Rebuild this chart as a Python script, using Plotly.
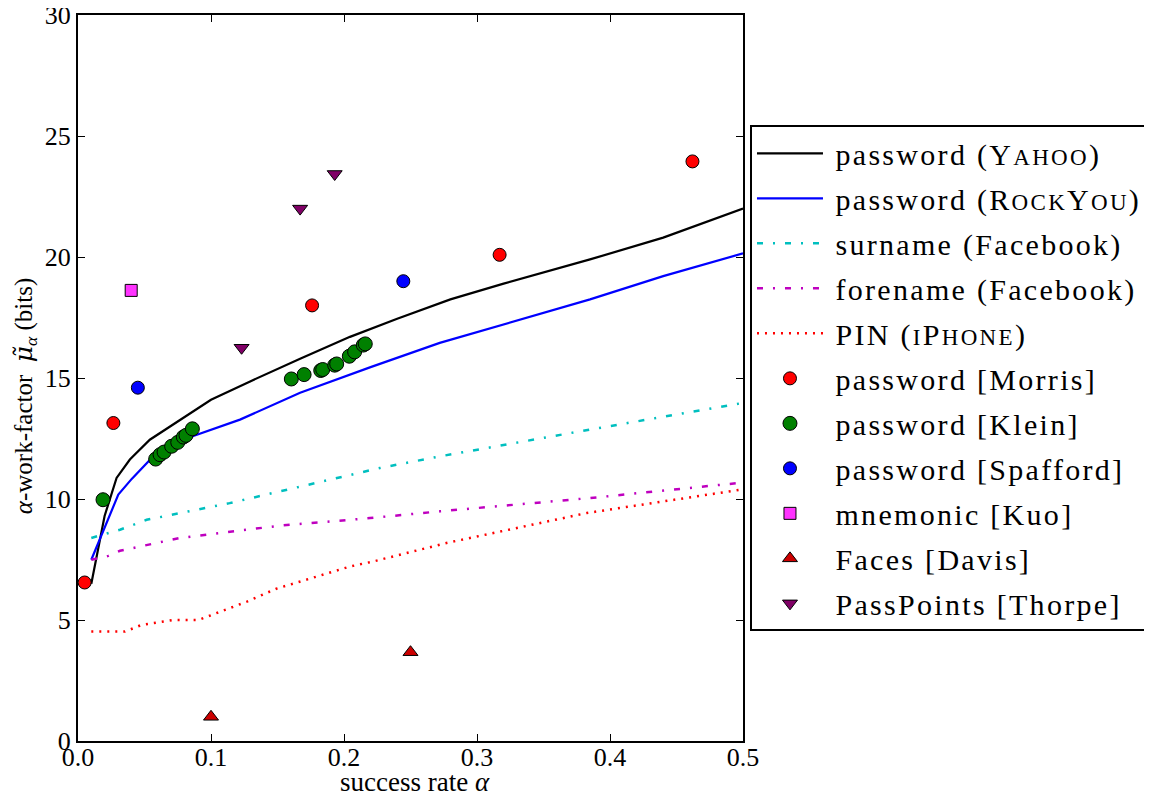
import plotly.graph_objects as go

# ---- data ----
yahoo_x = [0.01, 0.02, 0.029, 0.039, 0.054, 0.077, 0.10, 0.129, 0.167, 0.2045, 0.24, 0.28, 0.32, 0.385, 0.44, 0.5]
yahoo_y = [6.5, 9.3, 10.87, 11.63, 12.45, 13.28, 14.1, 14.85, 15.8, 16.7, 17.45, 18.25, 18.9, 19.9, 20.8, 22.0]

rockyou_x = [0.01, 0.0303, 0.0404, 0.059, 0.0867, 0.1218, 0.167, 0.22, 0.272, 0.385, 0.44, 0.5]
rockyou_y = [7.49, 10.18, 10.83, 11.9, 12.6, 13.28, 14.39, 15.45, 16.45, 18.25, 19.21, 20.15]

surname_x = [0.01, 0.0316, 0.0516, 0.114, 0.227, 0.272, 0.385, 0.5]
surname_y = [8.39, 8.73, 9.14, 9.83, 11.28, 11.76, 12.87, 13.97]

forename_x = [0.01, 0.0228, 0.0316, 0.0767, 0.152, 0.2195, 0.272, 0.385, 0.5]
forename_y = [7.49, 7.65, 7.86, 8.39, 8.9, 9.21, 9.49, 10.04, 10.68]

pin_x = [0.01, 0.0353, 0.0479, 0.0717, 0.0905, 0.109, 0.127, 0.149, 0.174, 0.2045, 0.222, 0.277, 0.3825, 0.5]
pin_y = [4.52, 4.52, 4.80, 5.0, 5.0, 5.39, 5.76, 6.29, 6.69, 7.21, 7.42, 8.18, 9.42, 10.4]

morris_x = [0.005, 0.0266, 0.176, 0.317, 0.462]
morris_y = [6.55, 13.14, 18.0, 20.09, 23.95]

klein_x = [0.0188, 0.0584, 0.0617, 0.0647, 0.0704, 0.075, 0.0792, 0.0812, 0.086,
           0.1604, 0.170, 0.1825, 0.184, 0.193, 0.1945, 0.204, 0.208, 0.2145, 0.216]
klein_y = [9.97, 11.65, 11.83, 11.94, 12.18, 12.34, 12.56, 12.63, 12.9,
           14.96, 15.14, 15.31, 15.35, 15.53, 15.58, 15.9, 16.08, 16.36, 16.41]

spafford_x = [0.045, 0.2446]
spafford_y = [14.6, 19.0]

kuo_x = [0.040]
kuo_y = [18.62]

davis_x = [0.100, 0.250]
davis_y = [1.0, 3.67]

thorpe_x = [0.123, 0.167, 0.193]
thorpe_y = [16.25, 22.0, 23.43]

x_ticks = [0.0, 0.1, 0.2, 0.3, 0.4, 0.5]
x_ticklabels = ["0.0", "0.1", "0.2", "0.3", "0.4", "0.5"]
y_ticks = [0, 5, 10, 15, 20, 25, 30]

x_title = "success rate <i>α</i>"
y_title = ("<i>α</i>-work-factor  <span style='font-family:DejaVu Serif'><i>μ̃</i></span>"
           "<sub><i>α</i></sub> (bits)")

FONT = "Liberation Serif"
SC = "font-size:23px"
PAD = "\u00a0"


def sc(first, rest):
    return f"{first}<span style='{SC}'>{rest}</span>"


names = [
    f"password ({sc('Y', 'AHOO')})",
    f"password ({sc('R', 'OCK')}{sc('Y', 'OU')})",
    "surname (Facebook)",
    "forename (Facebook)",
    f"PIN (<span style='{SC}'>I</span>P<span style='{SC}'>HONE</span>)",
    "password [Morris]",
    "password [Klein]",
    "password [Spafford]",
    "mnemonic [Kuo]",
    "Faces [Davis]",
    "PassPoints [Thorpe]",
]


def legend_label(s):
    return f"{PAD}<span style='letter-spacing:2.3px'>{s}</span>"


fig = go.Figure()

line_specs = [
    (yahoo_x, yahoo_y, "#000000", "solid", 2.2),
    (rockyou_x, rockyou_y, "#0000ff", "solid", 2.2),
    (surname_x, surname_y, "#00bfbf", "6px,10px,2px,10px", 2.5),
    (forename_x, forename_y, "#bf00bf", "6px,10px,2px,10px", 2.5),
    (pin_x, pin_y, "#ff0000", "2px,6px", 2.5),
]
for i, (xs, ys, col, dash, w) in enumerate(line_specs):
    fig.add_trace(go.Scatter(x=xs, y=ys, mode="lines", name=legend_label(names[i]),
                             legendgroup=f"g{i}",
                             line=dict(color=col, dash=dash, width=w)))

marker_specs = [
    (morris_x, morris_y, "#ff0000", "circle", 13),
    (klein_x, klein_y, "#008000", "circle", 14),
    (spafford_x, spafford_y, "#0000ff", "circle", 13),
    (kuo_x, kuo_y, "#ff33ff", "square", 12),
    (davis_x, davis_y, "#cc0000", "triangle-up", 13),
    (thorpe_x, thorpe_y, "#800066", "triangle-down", 13),
]
for j, (xs, ys, col, sym, sz) in enumerate(marker_specs):
    i = j + 5
    fig.add_trace(go.Scatter(x=xs, y=ys, mode="markers", name=legend_label(names[i]),
                             legendgroup=f"g{i}",
                             marker=dict(color=col, symbol=sym, size=sz,
                                         line=dict(color="#000000", width=1))))

axis_common = dict(
    showgrid=False, zeroline=False, automargin=False,
    showline=True, linecolor="#000000", linewidth=2, mirror="allticks",
    ticks="inside", ticklen=7, tickwidth=1.3, tickcolor="#000000",
    ticklabeloverflow="allow",
    tickfont=dict(family=FONT, size=26, color="#000000"),
)

fig.update_xaxes(range=[0, 0.5], tickvals=x_ticks, ticktext=x_ticklabels,
                 ticklabelstandoff=-8, **axis_common)
fig.update_yaxes(range=[0, 30], tickvals=y_ticks, **axis_common)

fig.add_annotation(text=x_title, xref="paper", yref="paper", x=0.507, y=-0.0565,
                   xanchor="center", yanchor="middle", showarrow=False,
                   font=dict(family=FONT, size=27, color="#000000"))
fig.add_annotation(text=y_title, xref="paper", yref="paper", x=-0.0797, y=0.475,
                   xanchor="center", yanchor="middle", showarrow=False, textangle=-90,
                   font=dict(family=FONT, size=25, color="#000000"))

fig.update_layout(
    width=1152, height=796,
    margin=dict(l=70, r=417, t=7, b=63),
    paper_bgcolor="#ffffff", plot_bgcolor="#ffffff",
    font=dict(family=FONT, color="#000000"),
    legend=dict(x=1.0105, y=0.848, xanchor="left", yanchor="top",
                bordercolor="#000000", borderwidth=2, bgcolor="#ffffff",
                font=dict(family=FONT, size=30, color="#000000"),
                tracegroupgap=3, itemwidth=66),
    showlegend=True,
)

fig.write_html("out.html")
